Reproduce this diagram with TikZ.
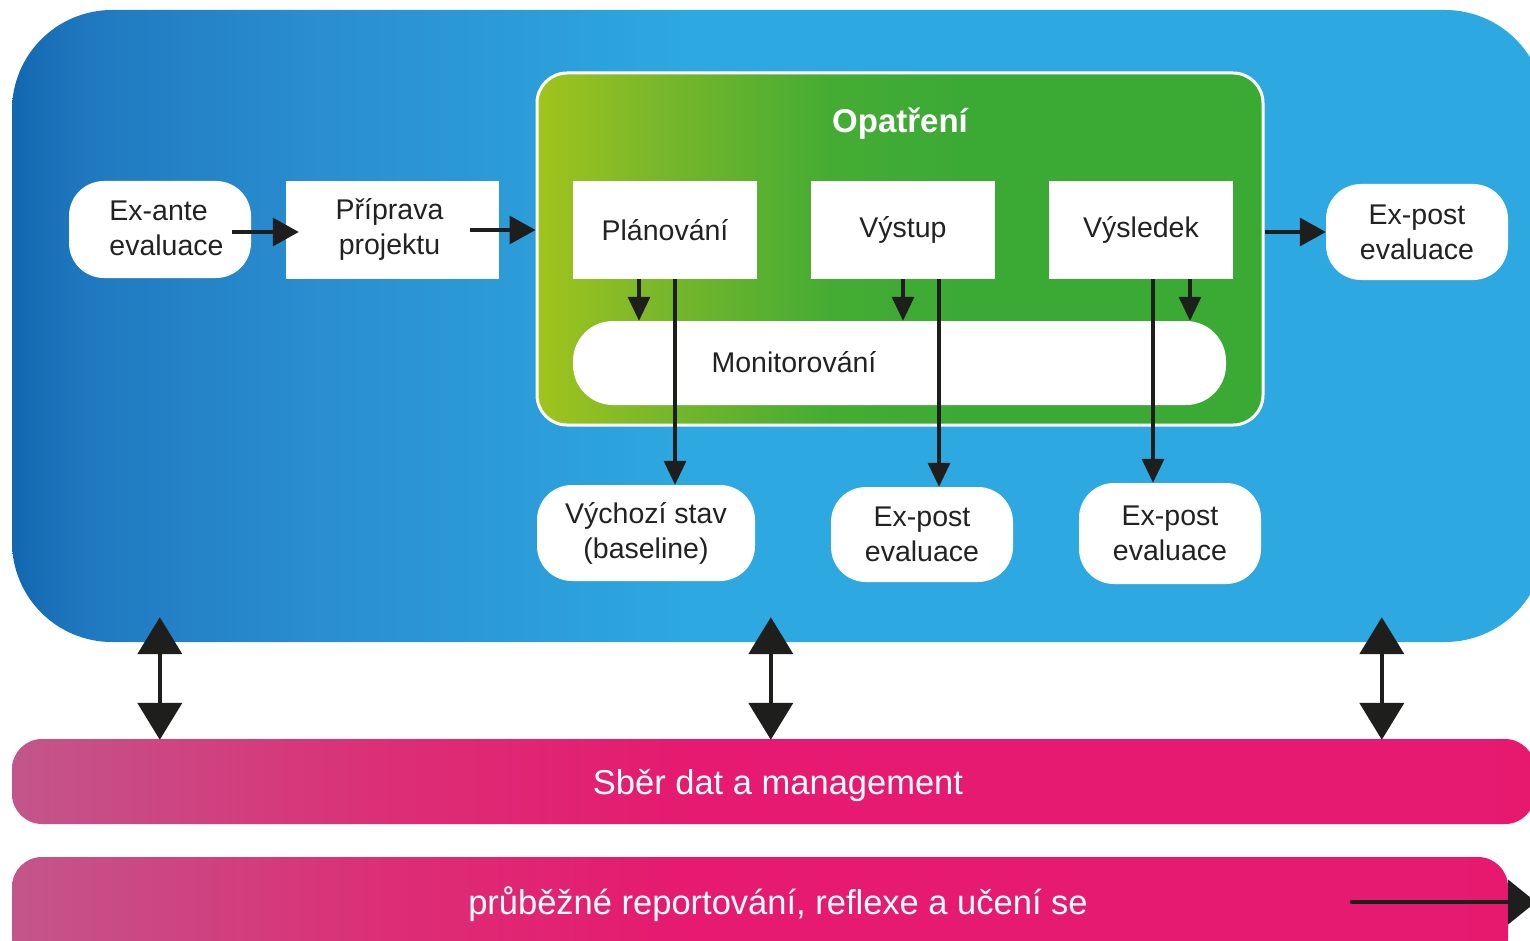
\documentclass[tikz,border=0pt]{standalone}
\usepackage{fontspec}
\setmainfont{Liberation Sans}
\usetikzlibrary{arrows.meta}
\definecolor{bA}{HTML}{1268B0}
\definecolor{bB}{HTML}{2079C0}
\definecolor{bC}{HTML}{2A8ED0}
\definecolor{bD}{HTML}{2DA8E0}
\definecolor{gA}{HTML}{A0C41C}
\definecolor{gB}{HTML}{7DB829}
\definecolor{gC}{HTML}{45AC33}
\definecolor{gD}{HTML}{3AAA35}
\definecolor{pA}{HTML}{C2568A}
\definecolor{pB}{HTML}{DC2E76}
\definecolor{pC}{HTML}{E51A70}
\definecolor{pD}{HTML}{E6196F}
\definecolor{ink}{HTML}{1E1E1C}
\definecolor{txt}{HTML}{222222}
\pgfdeclarehorizontalshading{blueshade}{100bp}{color(0bp)=(bA); color(25bp)=(bA); color(27.5bp)=(bB); color(35bp)=(bC); color(47bp)=(bD); color(100bp)=(bD)}
\pgfdeclarehorizontalshading{greenshade}{100bp}{color(0bp)=(gA); color(25bp)=(gA); color(32.5bp)=(gB); color(45bp)=(gC); color(55bp)=(gD); color(100bp)=(gD)}
\pgfdeclarehorizontalshading{pinkshade}{100bp}{color(0bp)=(pA); color(25bp)=(pA); color(37.5bp)=(pB); color(47.5bp)=(pC); color(100bp)=(pD)}
\begin{document}
\begin{tikzpicture}[x=1pt,y=-1pt,
  base/.style={inner sep=0pt, align=center, text=txt, font=\fontsize{28.5}{35}\selectfont},
  pill/.style={base, fill=white, rounded corners=35pt},
  sq/.style={base, fill=white},
  arrH/.style={draw=ink, line width=3.2pt, -{Triangle[length=26pt,width=28pt]}},
  arrV/.style={draw=ink, line width=3.2pt, -{Triangle[length=24pt,width=22pt]}},
  bigarr/.style={draw=ink, line width=4.5pt, {Triangle[length=37pt,width=44pt]}-{Triangle[length=37pt,width=44pt]}},
  reparr/.style={draw=ink, line width=4.5pt, line cap=round, -{Triangle[length=28pt,width=44pt]}},
  bartext/.style={text=white, font=\fontsize{34.5}{40}\selectfont}]
\useasboundingbox (0,0) rectangle (1530,941);
\clip (0,0) rectangle (1530,941);
% big panels
\node[shade, shading=blueshade, rounded corners=100pt, minimum width=1533pt, minimum height=632pt, inner sep=0pt] (blue) at (778.5,326) {};
\node[shade, shading=pinkshade, rounded corners=30pt, minimum width=1523pt, minimum height=85pt, inner sep=0pt] (pink1) at (773.5,781.5) {};
\node[shade, shading=pinkshade, rounded corners=30pt, minimum width=1496pt, minimum height=110pt, inner sep=0pt] (pink2) at (760,912) {};
\node[bartext] (t1) at (778,786) {Sběr dat a management};
\node[bartext] (t2) at (778,904) {průběžné reportování, reflexe a učení se};
% green panel
\node[shade, shading=greenshade, draw=white, line width=3pt, rounded corners=30pt, minimum width=726pt, minimum height=352pt, inner sep=0pt] (green) at (900,249) {};
\node[text=white, font=\fontsize{33}{38}\selectfont\bfseries] (opat) at (900,124) {Opatření};
% nodes
\node[pill, minimum width=182pt, minimum height=97pt] (exante) at (160,229.5) {};
\node[base, align=left] (exantetext) at (166.5,228.5) {Ex-ante\\evaluace};
\node[sq, minimum width=213pt, minimum height=98pt] (priprava) at (392.5,230) {};
\node[base] (pripravatext) at (389.5,229) {Příprava\\projektu};
\node[sq, minimum width=184pt, minimum height=98pt] (plan) at (665,230) {Plánování};
\node[sq, minimum width=184pt, minimum height=98pt] (vystup) at (903,230) {Výstup};
\node[sq, minimum width=184pt, minimum height=98pt] (vysledek) at (1141,230) {Výsledek};
\node[pill, rounded corners=40pt, minimum width=653pt, minimum height=84pt] (mon) at (899.5,363) {};
\node[base] (montext) at (794,362) {Monitorování};
\node[pill, minimum width=218pt, minimum height=96pt] (vychozi) at (646,533) {Výchozí stav\\(baseline)};
\node[pill, minimum width=182pt, minimum height=95pt] (ep2) at (922,534.5) {Ex-post\\evaluace};
\node[pill, minimum width=182pt, minimum height=101pt] (ep3) at (1170,533.5) {Ex-post\\evaluace};
\node[pill, minimum width=182pt, minimum height=96pt] (epR) at (1417,232) {Ex-post\\evaluace};
% horizontal arrows
\draw[arrH] ([shift={(-19,2.5)}]exante.east) -- ([shift={(13,2)}]priprava.west);
\draw[arrH] ([xshift=-29pt]priprava.east) -- (priprava.east -| green.west);
\draw[arrH] (epR.west -| green.east) -- (epR.west);
% vertical arrows
\draw[arrV] ([xshift=-26pt]plan.south) -- ([xshift=-26pt]plan.south |- mon.north);
\draw[arrV] ([xshift=10pt]plan.south) -- ([xshift=10pt]plan.south |- vychozi.north);
\draw[arrV] (vystup.south) -- (vystup.south |- mon.north);
\draw[arrV] ([xshift=36pt]vystup.south) -- ([xshift=36pt]vystup.south |- ep2.north);
\draw[arrV] ([xshift=12pt]vysledek.south) -- ([xshift=12pt]vysledek.south |- ep3.north);
\draw[arrV] ([xshift=49pt]vysledek.south) -- ([xshift=49pt]vysledek.south |- mon.north);
% double arrows
\draw[bigarr] ([shift={(148,-25)}]blue.south west) -- ([shift={(148,1)}]pink1.north west);
\draw[bigarr] ([shift={(759,-25)}]blue.south west) -- ([shift={(759,1)}]pink1.north west);
\draw[bigarr] ([shift={(1370,-25)}]blue.south west) -- ([shift={(1370,1)}]pink1.north west);
% reporting arrow
\coordinate (repstart) at (1352,902);
\coordinate (repend) at (1536,902);
\draw[reparr] (repstart) -- (repend);
\end{tikzpicture}
\end{document}
